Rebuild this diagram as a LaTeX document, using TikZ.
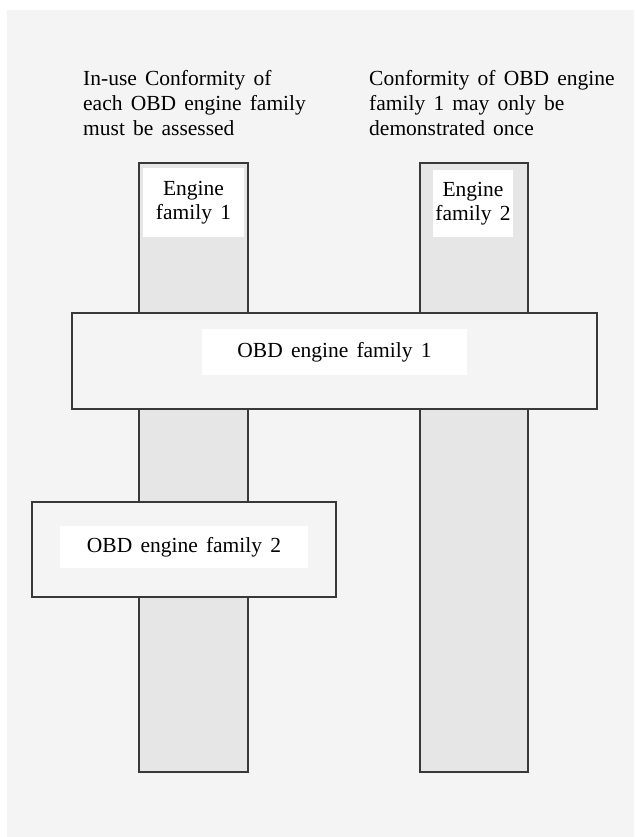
\documentclass[tikz,border=0pt]{standalone}
\usepackage{fontspec}
\setmainfont{Liberation Serif}
\definecolor{bggray}{HTML}{F4F4F4}
\definecolor{colgray}{HTML}{E6E6E6}
\definecolor{edge}{HTML}{383838}
\newcommand\mywidespace{\spaceskip=0.38em plus 0.1em\relax}
\begin{document}
\begin{tikzpicture}[x=1pt,y=-1pt,
  txt/.style={inner sep=0pt, font=\fontsize{21.5}{25}\selectfont\mywidespace},
  colbox/.style={draw=edge, line width=2.8pt, fill=colgray, inner sep=0pt},
  obdbox/.style={draw=edge, line width=2.8pt, fill=bggray, inner sep=0pt},
  whitelabel/.style={fill=white, inner sep=0pt, align=center, txt}
]
\useasboundingbox (0,0) rectangle (634,837);
\fill[bggray] (7,10) rectangle (634,837);

% top texts
\node[txt, anchor=north west, align=left] (t1) at (83,70.5)
  {In-use Conformity of\\each OBD engine family\\must be assessed};
\node[txt, anchor=north west, align=left] (t2) at (369,70.5)
  {Conformity of OBD engine\\family 1 may only be\\demonstrated once};

% columns
\node[colbox, minimum width=109pt, minimum height=609pt] (c1) at (193.5,467.5) {};
\node[colbox, minimum width=108pt, minimum height=609pt] (c2) at (474,467.5) {};
\node[whitelabel, minimum width=101pt, minimum height=69pt, font=\fontsize{21.5}{24}\selectfont\mywidespace] (l1) at (193.5,202.5) {Engine\\family 1};
\node[whitelabel, minimum width=80pt, minimum height=67pt, font=\fontsize{21.5}{24}\selectfont\mywidespace] (l2) at (473,203.5) {Engine\\family 2};

% OBD family boxes
\node[obdbox, minimum width=525pt, minimum height=96pt] (o1) at (334.5,361) {};
\node[whitelabel, minimum width=265pt, minimum height=46pt] (ol1) at (334.5,352) {OBD engine family 1};
\node[obdbox, minimum width=304pt, minimum height=95pt] (o2) at (184,549.5) {};
\node[whitelabel, minimum width=248pt, minimum height=42pt] (ol2) at (184,547) {OBD engine family 2};
\end{tikzpicture}
\end{document}
